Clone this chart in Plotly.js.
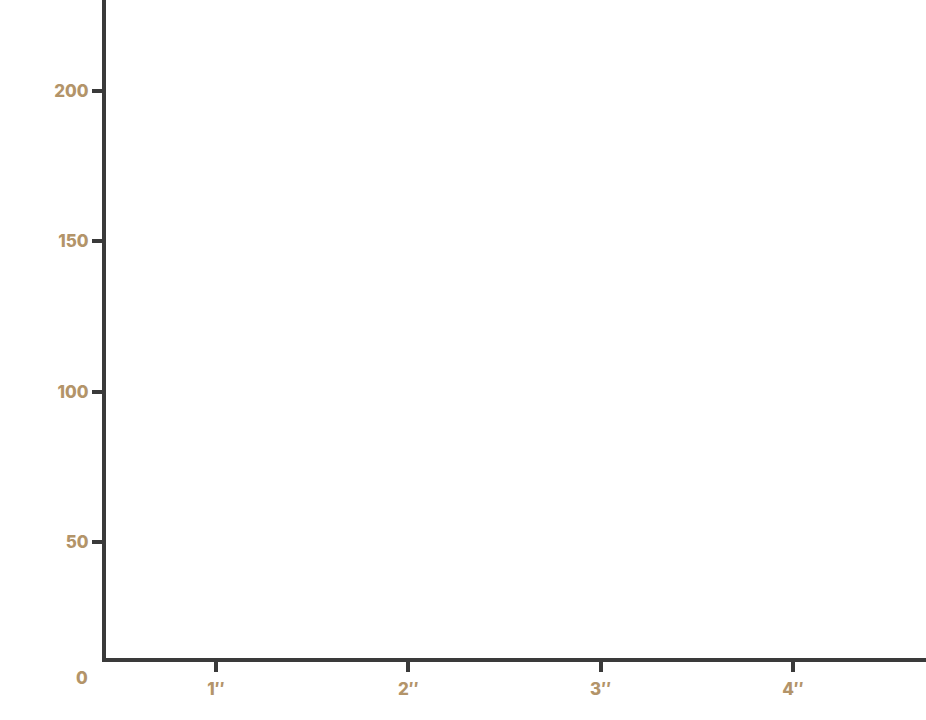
<!DOCTYPE html>
<html>
<head>
<meta charset="utf-8">
<script src="https://cdn.plot.ly/plotly-3.0.1.min.js"></script>
<style>
  body { margin: 0; background: #fff; }
  #chart { width: 926px; height: 720px; }
</style>
</head>
<body>
<div id="chart"></div>
<script>
// empty chart, only the axes are drawn
var xValues = [];
var yValues = [];
var xTickVals = [1, 2, 3, 4];
var xTickText = ['1″', '2″', '3″', '4″'];
var yTickVals = [50, 100, 150, 200];
var yTickText = ['50', '100', '150', '200'];

var labelColor = '#b39469';
var lineColor = '#3a3a3a';
var tickFont = { family: 'Inter, Lato, sans-serif', size: 17, color: labelColor, weight: 800 };

var data = [{
    x: xValues,
    y: yValues,
    type: 'scatter',
    mode: 'lines',
    showlegend: false
}];

var layout = {
    width: 926,
    height: 720,
    margin: { l: 106, r: 0, t: 0, b: 62 },
    paper_bgcolor: '#fff',
    plot_bgcolor: '#fff',
    showlegend: false,
    xaxis: {
        range: [0.428, 4.6915],
        tickvals: xTickVals,
        ticktext: xTickText,
        showgrid: false,
        zeroline: false,
        showline: true,
        linecolor: lineColor,
        linewidth: 4,
        ticks: 'outside',
        ticklen: 10,
        tickwidth: 4,
        tickcolor: lineColor,
        ticklabelstandoff: 3,
        tickfont: tickFont
    },
    yaxis: {
        range: [11.42, 230.27],
        tickvals: yTickVals,
        ticktext: yTickText,
        showgrid: false,
        zeroline: false,
        showline: true,
        linecolor: lineColor,
        linewidth: 4,
        ticks: 'outside',
        ticklen: 10,
        tickwidth: 4,
        tickcolor: lineColor,
        tickfont: tickFont
    },
    annotations: [{
        text: '0',
        xref: 'paper',
        yref: 'paper',
        x: 0,
        y: 0,
        xanchor: 'right',
        yanchor: 'top',
        xshift: -16,
        yshift: -8,
        showarrow: false,
        font: tickFont
    }]
};

Plotly.newPlot('chart', data, layout, { displayModeBar: false, staticPlot: true });
</script>
</body>
</html>
